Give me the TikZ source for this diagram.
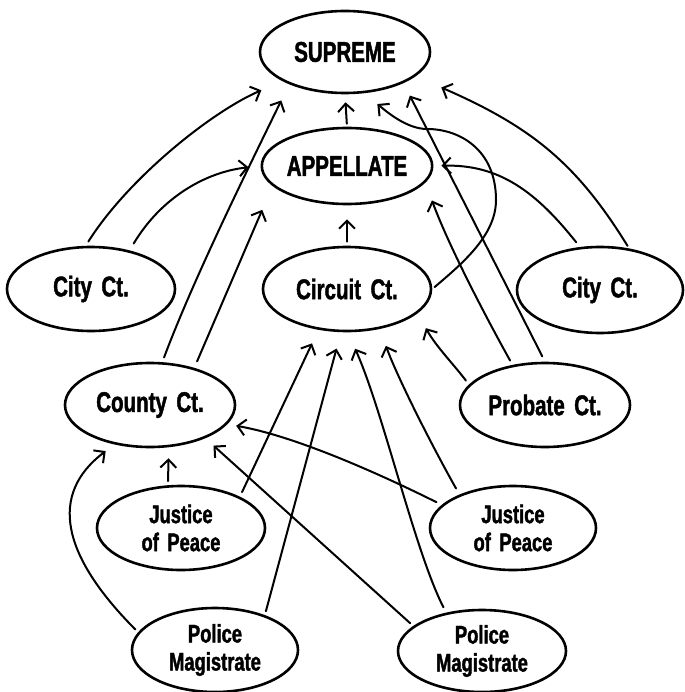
\documentclass[tikz,border=0pt]{standalone}
\usepackage{fontspec}
\newfontfamily\cf[FakeStretch=0.72, BoldFeatures={FakeBold=1.5}]{Liberation Sans}
\usetikzlibrary{shapes.geometric,arrows.meta}
\begin{document}
\begin{tikzpicture}[x=1pt,y=-1pt,
  court/.style={ellipse, draw, line width=2.6pt, inner sep=0pt, minimum width=168pt, minimum height=84pt, align=center},
  big/.style={font=\cf\bfseries\fontsize{28.5}{30}\selectfont},
  two/.style={font=\cf\bfseries\fontsize{25.5}{28}\selectfont},
  arr/.style={line width=2pt, -{Straight Barb[length=8pt,width=16pt]}, line cap=round}]
\useasboundingbox (0,0) rectangle (684,692);

\node[court, big, minimum width=170pt, minimum height=82pt] (sup) at (345,52) {SUPREME};
\node[court, big, minimum width=166pt, minimum height=76pt] (app) at (347,166) {APPELLATE};
\node[court, big] (cityl) at (91,289) {City\,\,Ct.};
\node[court, big] (circ) at (347,289) {Circuit\,\,Ct.};
\node[court, big, minimum width=166pt, minimum height=86pt] (cityr) at (600,290) {City\,\,Ct.};
\node[court, big, minimum width=170pt] (county) at (150,405) {County\,\,Ct.};
\node[court, big, minimum width=170pt] (prob) at (545,405) {Probate\,\,Ct.};
\node[court, two] (jpl) at (181,528) {Justice\\of\,\,Peace};
\node[court, two, minimum width=166pt] (jpr) at (513,528) {Justice\\of\,\,Peace};
\node[court, two, minimum width=166pt] (pml) at (215,650) {Police\\Magistrate};
\node[court, two, minimum height=82pt] (pmr) at (482,651) {Police\\Magistrate};

% straight short arrows
\draw[arr, shorten <=3pt, shorten >=8pt] (app.north) -- (sup.south);
\draw[arr, shorten <=4pt, shorten >=14pt] (circ.north) -- (app.south);
\draw[arr, shorten <=4pt, shorten >=11pt] (jpl.107) -- (county.294);

% City Ct. (left)
\draw[arr, shorten <=5pt, shorten >=23pt] (cityl.97) .. controls (127.8,179) and (210.8,112.1) .. (sup.205);
\draw[arr, shorten <=8pt, shorten >=12pt] (cityl.45) .. controls (160.6,198.4) and (205,172) .. (app.west);

% County Ct.
\draw[arr, shorten <=5pt, shorten >=18pt] (county.74) .. controls (194.9,275.4) and (250.6,163.6) .. (sup.210);
\draw[arr, shorten <=7pt, shorten >=26pt] (county.40) -- (app.195);

% Circuit Ct. loop to Supreme
\draw[arr, shorten <=3pt, shorten >=17pt] (circ.east) .. controls (463,263) and (496,235) .. (496,200)
  .. controls (496,150) and (460,129) .. (427,129)
  .. controls (407,129) and (387,112) .. (sup.295);

% Probate Ct.
\draw[arr, shorten <=6pt, shorten >=14pt] (prob.north) -- (sup.332);
\draw[arr, shorten <=5pt, shorten >=19pt] (prob.129) .. controls (486.4,318) and (449.2,247) .. (app.348);
\draw[arr, shorten <=5pt, shorten >=17pt] (prob.165) .. controls (454.7,365.5) and (436.2,346.8) .. (circ.341);

% City Ct. (right)
\draw[arr, shorten <=3pt, shorten >=28pt] (cityr.55) .. controls (577,164) and (532,127) .. (sup.341);
\draw[arr, shorten <=6pt, shorten >=8pt] (cityr.115) .. controls (537,193) and (500,164) .. (app.east);

% to Circuit Ct. from below
\draw[arr, shorten <=5pt, shorten >=15pt] (jpl.28) -- (circ.235);
\draw[arr, shorten <=4pt, shorten >=17pt] (pml.35) -- (circ.262);
\draw[arr, shorten <=6pt, shorten >=18pt] (pmr.133) .. controls (415,552) and (383,411) .. (circ.271);
\draw[arr, shorten <=7pt, shorten >=18pt] (jpr.148) .. controls (435.7,452.5) and (400.2,383.8) .. (circ.309);

% to County Ct. from below
\draw[arr, shorten <=6pt, shorten >=9pt] (jpr.162) .. controls (380,474) and (295,436) .. (county.346);
\draw[arr, shorten <=4pt, shorten >=11pt] (pmr.160) -- (county.329);
\draw[arr, shorten <=4pt, shorten >=11pt] (pml.167) .. controls (61.5,555.1) and (48.5,494.4) .. (county.228);

\end{tikzpicture}
\end{document}
